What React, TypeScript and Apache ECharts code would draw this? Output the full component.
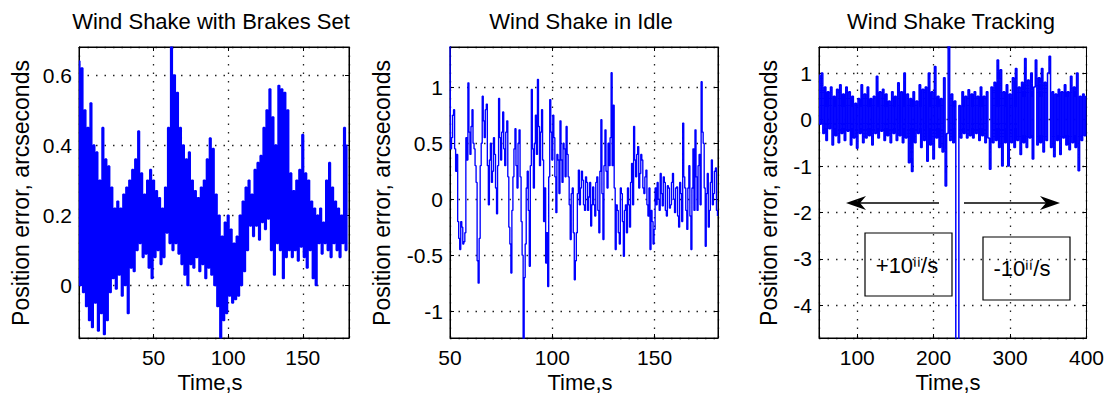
import React, { useEffect, useRef } from "react";
import * as echarts from "echarts";

const FONT = "'Liberation Sans', Arial, Helvetica, sans-serif";

// Panel titles and axis names
const TITLES = ["Wind Shake with Brakes Set", "Wind Shake in Idle", "Wind Shake Tracking"];
const Y_NAME = "Position error, arcseconds";
const X_NAME = "Time,s";

// Panel 1: Wind Shake with Brakes Set (t = 0..180 s, 1 s steps)
const P1_START = 0;
const P1_STEP = 1;
const P1_VALUES = [
  0.64, 0.0, 0.62, -0.02, 0.5, -0.06, 0.45, -0.1, 0.52, -0.12,
  0.4, -0.05, 0.38, -0.13, 0.3, -0.08, 0.45, -0.14, 0.36, -0.1,
  0.34, -0.02, 0.28, 0.02, 0.22, -0.01, 0.24, 0.03, 0.22, -0.03,
  0.26, 0.0, 0.28, -0.08, 0.3, 0.05, 0.33, 0.04, 0.36, 0.1,
  0.44, 0.12, 0.32, 0.08, 0.26, 0.09, 0.3, 0.05, 0.33, 0.02,
  0.3, 0.08, 0.27, 0.1, 0.25, 0.06, 0.22, 0.08, 0.28, 0.15,
  0.45, 0.12, 0.68, 0.1, 0.6, 0.12, 0.55, 0.09, 0.45, 0.06,
  0.4, 0.03, 0.36, 0.0, 0.38, 0.06, 0.3, 0.05, 0.27, 0.08,
  0.25, 0.04, 0.28, 0.06, 0.3, 0.02, 0.36, 0.05, 0.42, 0.03,
  0.39, 0.0, 0.26, -0.06, 0.2, -0.15, 0.14, -0.1, 0.18, -0.08,
  0.2, -0.03, 0.16, -0.05, 0.12, -0.04, 0.14, -0.03, 0.2, 0.0,
  0.24, 0.04, 0.28, 0.1, 0.3, 0.17, 0.26, 0.14, 0.33, 0.17,
  0.35, 0.13, 0.37, 0.18, 0.45, 0.16, 0.5, 0.19, 0.56, 0.1,
  0.48, 0.03, 0.4, 0.12, 0.57, 0.1, 0.56, 0.02, 0.55, 0.08,
  0.5, 0.1, 0.32, 0.08, 0.27, 0.1, 0.3, 0.07, 0.33, 0.11,
  0.43, 0.08, 0.32, 0.05, 0.3, 0.1, 0.24, 0.02, 0.22, 0.0,
  0.2, 0.12, 0.22, 0.09, 0.18, 0.12, 0.3, 0.1, 0.35, 0.08,
  0.28, 0.12, 0.24, 0.1, 0.22, 0.08, 0.2, 0.12, 0.45, 0.1,
  0.4,
];

// Panel 2: Wind Shake in Idle (t = 50..181 s, 0.5 s steps)
const P2_START = 50;
const P2_STEP = 0.5;
const P2_VALUES = [
  1.5, 0.45, 0.55, 0.75, 0.8, 0.45, 0.25, 0.4, -0.2, -0.35,
  -0.45, -0.2, -0.25, -0.4, -0.38, -0.3, 0.55, 0.35, 1.04, 0.6,
  0.4, 0.65, 0.8, 0.5, 0.45, 0.3, 0.15, -0.55, -0.75, -0.35,
  0.3, 0.5, 0.92, 0.7, 0.55, 0.8, 0.85, 0.3, -0.05, 0.35,
  0.5, 0.15, 0.25, 0.55, 0.4, 0.1, -0.13, 0.3, 0.9, 0.55,
  0.35, 0.6, 0.78, 0.45, 0.3, 0.6, 0.7, 0.2, -0.25, -0.4,
  -0.66, -0.1, 0.2, 0.45, 0.63, 0.3, 0.1, 0.5, 0.62, 0.2,
  -0.2, -0.5, -1.3, -0.7, -0.4, 0.1, 0.25, -0.1, -0.6, 0.3,
  0.98, 0.45, 0.1, 0.5, 0.75, 0.4, 1.07, 0.65, 0.3, 0.6,
  0.8, 0.35, -0.2, 0.1, -0.57, -0.3, -0.78, 0.2, 0.89, 0.6,
  0.35, 0.75, 0.55, 0.2, -0.12, 0.4, 0.35, 0.05, 0.7, 0.35,
  0.15, 0.5, 0.45, 0.2, 0.65, 0.4, 0.2, -0.05, -0.36, 0.05,
  0.1, -0.3, -0.72, -0.55, -0.3, 0.05, 0.26, -0.05, 0.1, 0.25,
  0.17, -0.05, -0.1, 0.2, 0.15, -0.1, 0.02, 0.15, -0.24, -0.05,
  0.11, -0.05, -0.15, 0.15, 0.2, -0.1, -0.3, 0.25, 0.71, 0.05,
  -0.36, 0.3, 0.62, 0.25, 0.1, 0.5, 0.3, 0.55, 1.13, 0.3,
  0.84, 0.1, -0.45, -0.05, -0.1, -0.3, -0.4, 0.1, 0.05, -0.2,
  -0.51, -0.1, -0.05, -0.3, 0.1, -0.05, -0.25, 0.15, 0.32, -0.05,
  0.65, 0.35, 0.2, 0.4, 0.47, 0.1, 0.23, 0.4, 0.35, 0.1,
  0.05, 0.2, 0.26, -0.05, -0.15, 0.1, -0.45, -0.1, -0.2, -0.4,
  -0.27, 0.1, -0.05, 0.15, 0.0, -0.1, 0.23, 0.05, -0.06, 0.2,
  0.15, -0.1, -0.15, 0.12, 0.1, -0.08, -0.05, 0.15, 0.23, 0.0,
  -0.12, 0.1, 0.11, -0.15, -0.25, 0.15, 0.05, -0.2, 0.68, 0.2,
  0.1, -0.1, -0.27, 0.1, 0.3, -0.15, -0.45, 0.1, 0.45, -0.1,
  0.62, 0.2, -0.1, 0.3, 0.4, -0.05, 1.05, 0.6, 0.5, 0.1,
  -0.42, 0.05, 0.23, -0.25, -0.1, 0.15, 0.35, -0.05, 0.05, 0.25,
  0.28, -0.1, -0.15,
];

// Panel 3: Wind Shake Tracking (t = 50..400 s, 2 s steps)
const P3_START = 50;
const P3_STEP = 2;
const P3_VALUES = [
  0.95, -0.1, 1.0, -0.3, 0.7, -0.45, 0.6, -0.2, 0.7, -0.55,
  0.5, -0.35, 0.65, -0.5, 0.75, -0.3, 0.55, -0.45, 0.7, -0.25,
  0.6, -0.55, 0.5, -0.4, 0.35, -0.62, 0.45, -0.3, 0.75, -0.5,
  0.55, -0.4, 0.7, -0.35, 0.45, -0.55, 0.5, -0.3, 0.93, -0.4,
  0.6, -0.25, 0.65, -0.45, 0.55, -0.35, 0.4, -0.5, 0.6, -0.3,
  0.5, -0.45, 0.79, -0.35, 0.6, -0.5, 1.0, -0.4, 0.55, -0.93,
  0.45, -1.12, 0.6, -0.5, 0.4, -0.3, 0.75, -0.6, 0.65, -0.45,
  0.7, -0.9, 1.0, -0.55, 0.6, -0.85, 1.14, -0.4, 0.5, -0.6,
  0.45, -0.7, 0.9, -1.43, -0.3, 1.7, -0.45, 0.55, -0.5, 0.4,
  -6.0, -6.0, 0.3, -0.4, 0.6, -0.3, 0.5, -0.4, 0.64, -0.35,
  0.55, -0.4, 0.6, -0.3, 0.5, -0.45, 0.7, -0.35, 0.5, -0.5,
  0.6, -0.4, -1.07, 0.7, -0.5, 0.8, -0.45, 1.28, -0.6, 1.07,
  -1.0, 0.6, -0.5, 0.75, -1.0, 0.55, -0.5, 0.9, -0.6, 1.1,
  -0.45, 0.7, -0.75, 0.8, -0.5, 1.31, -0.6, 0.85, -0.4, 1.0,
  -0.85, 0.7, 1.28, -0.55, 0.9, -0.5, 1.1, -0.7, 0.8, -0.45,
  1.0, 1.36, -0.6, 0.6, -0.8, 0.55, -0.45, 0.65, -0.75, 0.6,
  -0.4, 0.75, -0.55, 0.6, -0.65, 0.93, -0.5, 0.7, -0.6, 1.0,
  -1.1, 0.5, -0.45, 0.55, -0.35, 0.5,
];

// Annotation labels in panel 3
const RATE_LABELS = ["+10\u2071\u2071/s", "-10\u2071\u2071/s"];

const toPairs = (start: number, step: number, vals: number[]) =>
  vals.map((v, i) => [start + i * step, v]);

const BLUE = "#0000ff";

const GRIDS = [
  { left: 79, top: 47, width: 270, height: 291 },
  { left: 450, top: 47, width: 268, height: 291 },
  { left: 819, top: 47, width: 268, height: 291 },
];

const tickStyle = { show: true, inside: true, length: 4, lineStyle: { color: "#000", width: 1 } };
const lineStyleAxis = { show: true, onZero: false, lineStyle: { color: "#000", width: 1 } };
const splitStyle = { show: true, lineStyle: { color: "#222", width: 1.3, type: [1.5, 7] } };

function xAxes(gridIndex: number, min: number, max: number, splitNumber: number, showMin: boolean, showMax: boolean) {
  return [
    {
      type: "value", gridIndex, position: "bottom", min, max, splitNumber,
      axisLine: lineStyleAxis, axisTick: tickStyle,
      axisLabel: { color: "#000", fontSize: 21, fontFamily: FONT, margin: 9, showMinLabel: showMin, showMaxLabel: showMax },
      splitLine: splitStyle,
    },
    {
      type: "value", gridIndex, position: "top", min, max, splitNumber,
      axisLine: lineStyleAxis, axisTick: tickStyle,
      axisLabel: { show: false }, splitLine: { show: false },
    },
  ];
}

function yAxes(gridIndex: number, min: number, max: number, splitNumber: number) {
  return [
    {
      type: "value", gridIndex, position: "left", min, max, splitNumber,
      axisLine: lineStyleAxis, axisTick: tickStyle,
      axisLabel: { color: "#000", fontSize: 21, fontFamily: FONT, margin: 7, showMinLabel: false, showMaxLabel: false },
      splitLine: splitStyle,
    },
    {
      type: "value", gridIndex, position: "right", min, max, splitNumber,
      axisLine: lineStyleAxis, axisTick: tickStyle,
      axisLabel: { show: false }, splitLine: { show: false },
    },
  ];
}

const txt = (text: string, x: number, y: number, fontSize: number, rotation = 0) => ({
  type: "text",
  x, y, rotation,
  silent: true,
  style: { text, fill: "#000", fontSize, fontFamily: FONT, align: "center", verticalAlign: "middle" },
});

const option: any = {
  animation: false,
  backgroundColor: "#fff",
  grid: GRIDS.map((g) => ({ ...g, show: true, borderColor: "#000", borderWidth: 1, backgroundColor: "#fff", containLabel: false })),
  xAxis: [
    ...xAxes(0, 0, 181, 4, false, false),
    ...xAxes(1, 50, 181, 3, true, false),
    ...xAxes(2, 50, 400, 4, false, true),
  ],
  yAxis: [
    ...yAxes(0, -0.15, 0.68, 5),
    ...yAxes(1, -1.24, 1.36, 5),
    ...yAxes(2, -4.7, 1.56, 6),
  ],
  series: [
    { type: "line", xAxisIndex: 0, yAxisIndex: 0, data: toPairs(P1_START, P1_STEP, P1_VALUES), lw: 1.7 },
    { type: "line", xAxisIndex: 2, yAxisIndex: 2, data: toPairs(P2_START, P2_STEP, P2_VALUES), lw: 1.35 },
    { type: "line", xAxisIndex: 4, yAxisIndex: 4, data: toPairs(P3_START, P3_STEP, P3_VALUES), lw: 1.5 },
  ].map(({ lw, ...s }) => ({
    ...s, step: "middle", showSymbol: false, symbol: "none", clip: true, silent: true,
    lineStyle: { color: BLUE, width: lw },
  })),
  graphic: [
    txt(TITLES[0], 211, 21.5, 22),
    txt(TITLES[1], 581, 21.5, 22),
    txt(TITLES[2], 951, 21.5, 22),
    txt(Y_NAME, 20.7, 193, 23, Math.PI / 2),
    txt(Y_NAME, 382.4, 193, 23, Math.PI / 2),
    txt(Y_NAME, 769, 193, 23, Math.PI / 2),
    txt(X_NAME, 210, 382.5, 22),
    txt(X_NAME, 580, 382.5, 22),
    txt(X_NAME, 948, 382.5, 22),
    // arrows
    { type: "line", silent: true, shape: { x1: 856, y1: 203, x2: 939, y2: 203 }, style: { stroke: "#000", lineWidth: 1.6 } },
    { type: "polygon", silent: true, shape: { points: [[846, 203], [866, 196], [860, 203], [866, 210]] }, style: { fill: "#000" } },
    { type: "line", silent: true, shape: { x1: 964, y1: 203, x2: 1050, y2: 203 }, style: { stroke: "#000", lineWidth: 1.6 } },
    { type: "polygon", silent: true, shape: { points: [[1060, 203], [1040, 196], [1046, 203], [1040, 210]] }, style: { fill: "#000" } },
    // boxes
    { type: "rect", silent: true, shape: { x: 865, y: 233, width: 87, height: 63 }, style: { fill: "none", stroke: "#000", lineWidth: 1.2 } },
    { type: "rect", silent: true, shape: { x: 983, y: 237, width: 87, height: 63 }, style: { fill: "none", stroke: "#000", lineWidth: 1.2 } },
    txt(RATE_LABELS[0], 907, 265, 22),
    txt(RATE_LABELS[1], 1022, 268.5, 22),
  ],
};

export default function App() {
  const ref = useRef<HTMLDivElement>(null);
  useEffect(() => {
    const chart = echarts.init(ref.current!, null, { renderer: "svg" });
    chart.setOption(option);
    return () => chart.dispose();
  }, []);
  return (
    <div
      ref={ref}
      style={{ position: "fixed", left: 0, top: 0, width: 1107, height: 402, background: "#fff" }}
    />
  );
}
